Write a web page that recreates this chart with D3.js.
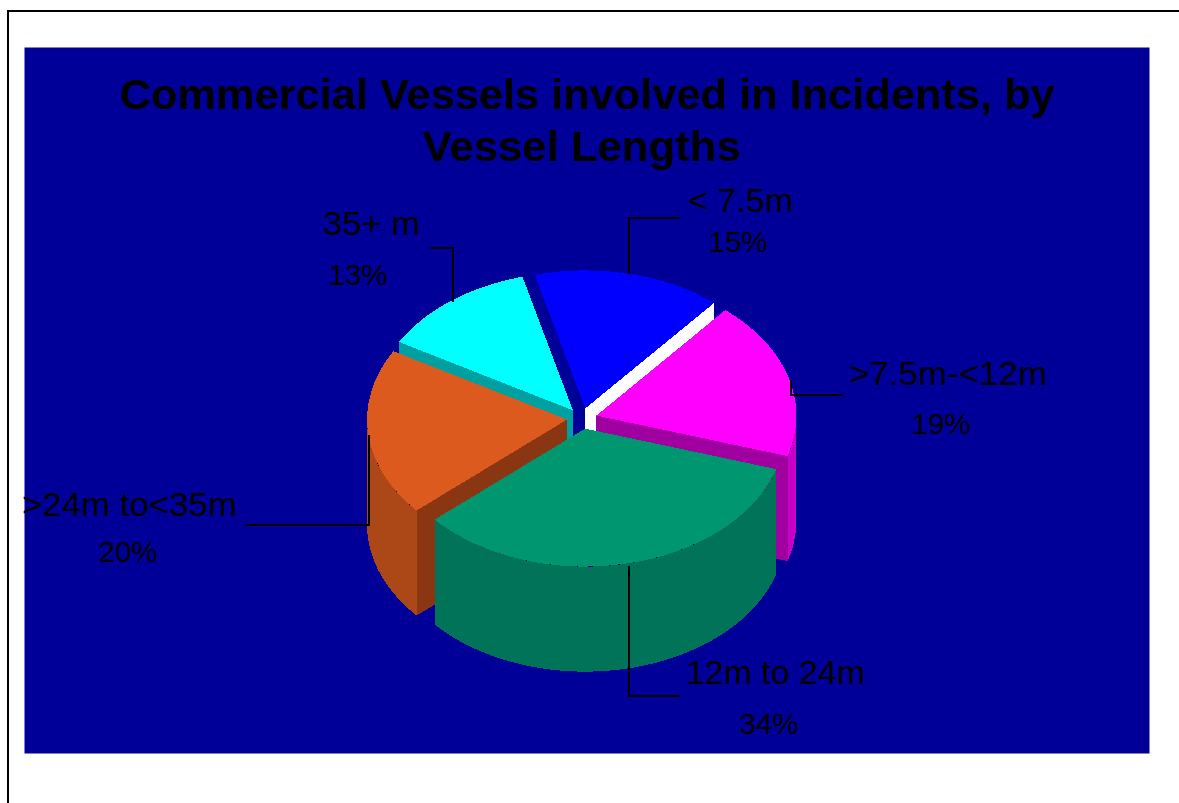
<!DOCTYPE html>
<html>
<head>
<meta charset="utf-8">
<script src="https://cdn.jsdelivr.net/npm/d3@7"></script>
<style>
  html, body { margin: 0; padding: 0; background: #fff; overflow: hidden; }
  text { font-family: "Liberation Sans", Arial, sans-serif; fill: #000; }
</style>
</head>
<body>
<div id="chart"></div>
<script>
// Chart data, clockwise from the top
var categories = ["< 7.5m", ">7.5m-<12m", "12m to 24m", ">24m to<35m", "35+ m"];
var shares = [15.2, 18.6, 33.8, 19.7, 12.7];
var titleLines = ["Commercial Vessels involved in Incidents, by", "Vessel Lengths"];

// Slice colours: top face, rim, and the two cut faces
var topColors = ["#0000ff", "#ff00ff", "#009670", "#dc5a1e", "#00ffff"];
var rimColors = ["#0000c0", "#c800c8", "#007358", "#ac4718", "#00a0a0"];
var startCutColors = ["#000099", "#a000a0", "#007358", "#8a3612", "#00a0a0"];
var endCutColors = ["#ffffff", "#a000a0", "#007358", "#8a3612", "#00a0a0"];

// Define SVG area dimensions
var svgWidth = 1179;
var svgHeight = 803;

var svg = d3.select("#chart")
  .append("svg")
  .attr("width", svgWidth)
  .attr("height", svgHeight)
  .style("display", "block");

// Outer frame (left and top only, the rest runs off the page) and plot background
svg.append("path")
  .attr("d", "M8,803V11H1179")
  .attr("fill", "none")
  .attr("stroke", "#000")
  .attr("stroke-width", 2);

svg.append("rect")
  .attr("x", 24.5)
  .attr("y", 47.5)
  .attr("width", 1125)
  .attr("height", 706)
  .attr("fill", "#000099");

// Title, the second line sits a little left of the first
var titleX = [587.5, 582];
var titleWidth = [935, 318];

svg.selectAll(".title")
  .data(titleLines)
  .enter()
  .append("text")
  .attr("class", "title")
  .attr("x", (d, i) => titleX[i])
  .attr("y", (d, i) => 109 + i * 52)
  .attr("text-anchor", "middle")
  .attr("font-size", 43.4)
  .attr("font-weight", "bold")
  .attr("textLength", (d, i) => titleWidth[i])
  .attr("lengthAdjust", "spacingAndGlyphs")
  .text(d => d);

// Pie geometry
var center = { x: 582, y: 418.5 };
var radius = 200;
var tilt = 0.69;
var depth = 105;
var explode = 15;

var deg = Math.PI / 180;
var pie = d3.pie()
  .sort(null)
  .startAngle(-14.6 * deg)
  .endAngle(345.4 * deg);

var slices = pie(shares).map(function(d, i) {
  d.index = i;
  d.mid = (d.startAngle + d.endAngle) / 2;
  d.cx = center.x + explode * Math.sin(d.mid);
  d.cy = center.y - explode * tilt * Math.cos(d.mid);
  return d;
});

var arc = d3.arc().innerRadius(0).outerRadius(radius);

// Point on the top ellipse of a slice
function rimPoint(d, angle) {
  return [d.cx + radius * Math.sin(angle), d.cy - radius * tilt * Math.cos(angle)];
}

var line = d3.line();

// Flat wall going from the slice's centre to its rim at this angle
function cutPath(d, angle) {
  var p = rimPoint(d, angle);
  return line([[d.cx, d.cy], p, [p[0], p[1] + depth], [d.cx, d.cy + depth]]) + "Z";
}

// Curved outer wall, only the part that faces the viewer
function rimPath(d) {
  var a0 = Math.max(d.startAngle, 90 * deg);
  var a1 = Math.min(d.endAngle, 270 * deg);
  if (a1 <= a0) return null;
  var steps = d3.range(a0, a1, deg).concat([a1]);
  var top = steps.map(a => rimPoint(d, a));
  var bottom = steps.slice().reverse().map(a => {
    var p = rimPoint(d, a);
    return [p[0], p[1] + depth];
  });
  return line(top.concat(bottom)) + "Z";
}

// Draw back to front so nearer slices cover the ones behind
var drawOrder = slices.slice().sort((a, b) => d3.descending(Math.cos(a.mid), Math.cos(b.mid)));

var sliceGroups = svg.append("g")
  .attr("shape-rendering", "crispEdges")
  .selectAll("g")
  .data(drawOrder)
  .enter()
  .append("g");

sliceGroups.filter(d => Math.sin(d.startAngle) < 0)
  .append("path")
  .attr("d", d => cutPath(d, d.startAngle))
  .attr("fill", d => startCutColors[d.index]);

sliceGroups.filter(d => Math.sin(d.endAngle) > 0)
  .append("path")
  .attr("d", d => cutPath(d, d.endAngle))
  .attr("fill", d => endCutColors[d.index]);

sliceGroups.filter(d => rimPath(d) !== null)
  .append("path")
  .attr("d", rimPath)
  .attr("fill", d => rimColors[d.index]);

sliceGroups.append("path")
  .attr("transform", d => `translate(${d.cx}, ${d.cy}) scale(1, ${tilt})`)
  .attr("d", arc)
  .attr("fill", d => topColors[d.index]);

// Leader lines and labels: start, elbow and end of each line, then label anchors
var leaderStartX = [629, 791, 629, 369, 453];
var leaderStartY = [274, 380, 566, 435, 302];
var leaderElbowY = [218, 395, 696, 525, 248];
var leaderEndX = [680, 843, 680, 245, 430];
var labelX = [740.5, 948, 775.5, 129.5, 371.5];
var labelY = [212, 385, 684, 516, 235];
var labelWidth = [105, 198, 179, 215, 97];
var percentX = [738, 941, 769, 128, 358];
var percentY = [252, 434, 734, 562, 285];

var formatPct = d => Math.round(d) + "%";

svg.append("g")
  .attr("shape-rendering", "crispEdges")
  .selectAll("path")
  .data(slices)
  .enter()
  .append("path")
  .attr("d", d => {
    var x = leaderStartX[d.index];
    var elbowY = leaderElbowY[d.index];
    return line([[x, leaderStartY[d.index]], [x, elbowY], [leaderEndX[d.index], elbowY]]);
  })
  .attr("fill", "none")
  .attr("stroke", "#000")
  .attr("stroke-width", 2);

svg.append("g")
  .selectAll("text")
  .data(slices)
  .enter()
  .append("text")
  .attr("x", d => labelX[d.index])
  .attr("y", d => labelY[d.index])
  .attr("text-anchor", "middle")
  .attr("font-size", 34)
  .attr("textLength", d => labelWidth[d.index])
  .attr("lengthAdjust", "spacingAndGlyphs")
  .text(d => categories[d.index]);

svg.append("g")
  .selectAll("text")
  .data(slices)
  .enter()
  .append("text")
  .attr("x", d => percentX[d.index])
  .attr("y", d => percentY[d.index])
  .attr("text-anchor", "middle")
  .attr("font-size", 29.5)
  .text(d => formatPct(d.data));
</script>
</body>
</html>
